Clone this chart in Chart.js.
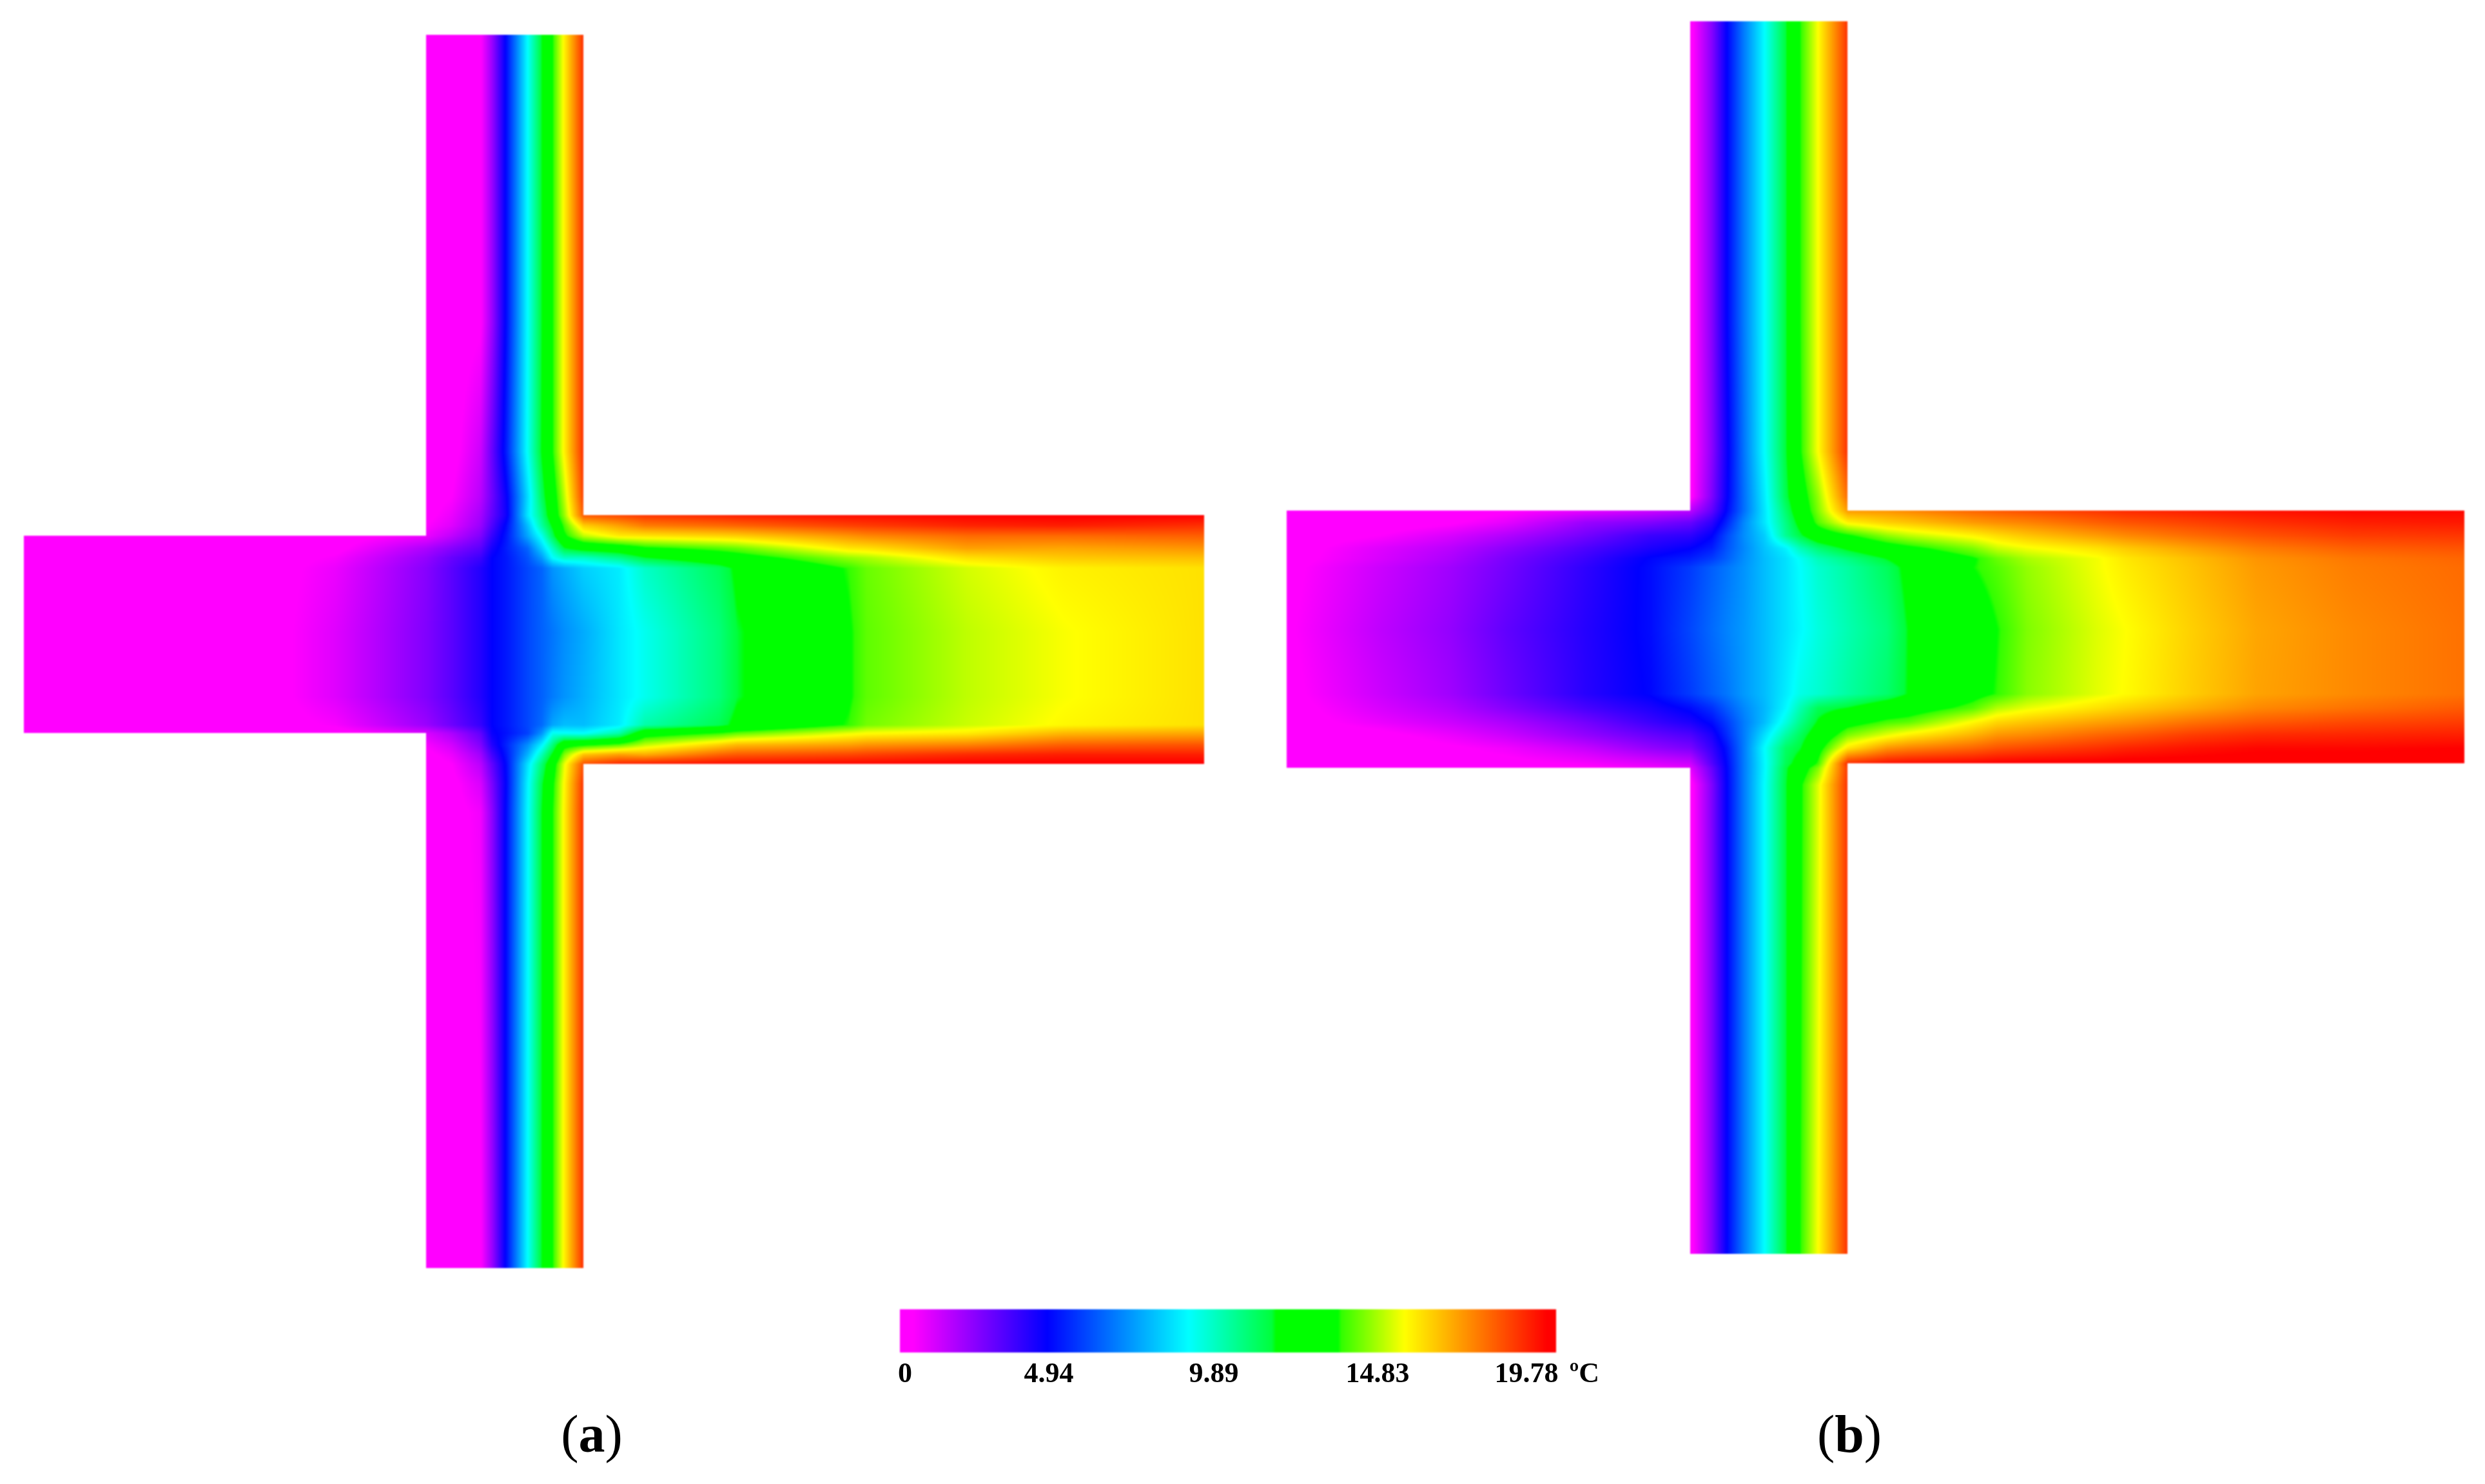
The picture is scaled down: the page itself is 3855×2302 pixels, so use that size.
<!DOCTYPE html>
<html>
<head>
<meta charset="utf-8">
<title>Temperature field</title>
<script src="https://cdn.jsdelivr.net/npm/chart.js@4"></script>
<style>
  html, body { margin: 0; padding: 0; background: #fff; }
  canvas { display: block; }
</style>
</head>
<body>
<canvas id="chart" width="3855" height="2302"></canvas>
<script>
const N = null;

// colour bar: temperature at each colour stop
const stopTemps = [0, 0.4, 4.43, 8.7, 11.2, 11.33, 13.2, 13.3, 15.2, 19.5, 19.78];
const stopColors = [[255,0,255],[255,0,255],[0,0,255],[0,255,255],[0,255,60],[0,255,0],[0,255,0],[50,255,0],[255,255,0],[255,0,0],[255,0,0]];
const tickLabels = ['0', '4.94', '9.89', '14.83', '19.78', 'ºC'];
const tickXs = [1404, 1627, 1883, 2137, 2368, 2458];
const barXs = [1396, 2414];
const barYs = [2031, 2098];
const barTemps = [[0, 19.78], [0, 19.78]];

// panel (a) nodes
const xsA = [37,250,400,520,661,700,745,763,785,818,840,857,875,905,960,1000,1115,1143,1316,1344,1500,1650,1868];
const ysA = [54,500,700,770,799,815,831,850,865,881,980,1080,1124,1137,1155,1170,1185,1215,1260,1967];
const tempsA = [
  [N,N,N,N,0,0,.3,2,4.6,8.7,11.3,13.2,15.4,18.8,N,N,N,N,N,N,N,N,N],
  [N,N,N,N,0,0,.3,2,4.6,8.7,11.3,13.2,15.4,18.8,N,N,N,N,N,N,N,N,N],
  [N,N,N,N,0,.1,1.2,2.8,4.9,8.8,11.4,13.2,15.4,18.8,N,N,N,N,N,N,N,N,N],
  [N,N,N,N,.1,.4,1.5,2.7,4.3,8.1,10.8,12.5,14.6,18.5,N,N,N,N,N,N,N,N,N],
  [N,N,N,N,.2,.7,1.8,2.9,4.2,8.3,10.3,12.3,14.2,18,18.3,18.6,18.9,19,19.3,19.3,19.5,19.6,19.5],
  [N,N,N,N,.4,.9,2,3.2,4.6,7.6,9.9,11.5,13.5,16,16.8,17.4,17.7,17.8,18.4,18.5,18.9,19,18.7],
  [0,0,0,.05,.7,1.4,2.4,3.6,4.8,7.2,8.9,10.9,13,14.6,15.5,15.6,15.9,16,17,17.2,17.7,17.7,17.9],
  [0,0,0,.2,1.7,2.3,3,4.1,4.9,6.1,7.9,9.5,11.2,11.9,12.3,13,13.6,13.8,15.6,15.7,16.8,16.7,17],
  [0,0,0,.5,2.1,2.8,3.5,4.43,4.8,5.8,7,8.7,9.4,9.4,10.2,11.2,12.3,12.6,14.2,14.4,15.7,16.1,16.3],
  [0,0,0,.7,2.3,3,3.9,4.43,4.8,5.6,6.1,6.9,7.3,7.9,8.4,9.4,10.8,11.5,13.3,13.8,14.8,15.4,15.7],
  [0,0,0,.9,2.4,3,3.9,4.43,4.8,5.6,6.05,6.4,6.8,7.3,8.3,8.9,10.4,11.2,13.1,13.7,14.6,15.15,15.7],
  [0,0,0,.9,2.4,3,3.9,4.43,4.8,5.6,6.05,6.5,6.9,7.4,8.3,8.9,10.4,11.2,13.1,13.7,14.6,15.15,15.7],
  [0,0,0,.5,2,2.7,3.6,4.43,4.8,5.6,6.2,7.2,7.6,7.6,8.4,9.8,10.9,11.6,13.3,13.9,14.7,15.3,15.7],
  [0,0,0,.1,1,1.7,2.9,4.3,4.7,5.5,6.9,8.9,8.8,8.7,9.8,12.5,13.3,13.7,15,15.2,15.5,16.4,16.7],
  [N,N,N,N,.5,1.1,2.4,3.9,5,6.8,8.5,10.4,12.7,13,13.6,14.6,16,16.4,16.8,17,17.3,17.9,18.1],
  [N,N,N,N,.2,.7,1.9,3.4,4.8,7.4,9.6,11.5,14,16.2,16.8,16.6,17.8,18,18.3,18.4,18.8,19,19],
  [N,N,N,N,.1,.4,1.5,2.9,4.6,8.2,10.5,12.5,15,18.2,19,19.2,19.4,19.4,19.5,19.5,19.6,19.6,19.6],
  [N,N,N,N,0,.2,1,2.5,4.5,8.5,11.1,13,15.3,18.7,N,N,N,N,N,N,N,N,N],
  [N,N,N,N,0,.1,.6,2.2,4.6,8.6,11.3,13.2,15.4,18.8,N,N,N,N,N,N,N,N,N],
  [N,N,N,N,0,0,.3,2,4.6,8.7,11.3,13.2,15.4,18.8,N,N,N,N,N,N,N,N,N]
];

// panel (b) nodes
const xsB = [1996,2139,2250,2336,2459,2560,2622,2655,2678,2705,2737,2770,2792,2820,2866,2927,2960,3060,3098,3144,3254,3298,3400,3500,3650,3823];
const ysB = [33,500,700,770,792,810,830,850,866,880,976,1076,1098,1120,1140,1160,1184,1191,1217,1945];
const tempsB = [
  [N,N,N,N,N,N,.1,2.3,4.4,6.5,8.7,11.2,13.2,15.2,18.7,N,N,N,N,N,N,N,N,N,N,N],
  [N,N,N,N,N,N,.1,2.3,4.4,6.5,8.7,11.2,13.2,15.2,18.7,N,N,N,N,N,N,N,N,N,N,N],
  [N,N,N,N,N,N,.1,2.2,4.2,6.4,8.7,11.2,13.1,15.2,18.7,N,N,N,N,N,N,N,N,N,N,N],
  [N,N,N,N,N,N,.2,2.4,4.3,6.3,8.4,11,12.5,14.2,17.7,N,N,N,N,N,N,N,N,N,N,N],
  [0,0,0,.3,.8,1.2,1.5,2.9,4.5,6.3,8.3,10.6,12.2,14,16.9,17,17.2,17.8,18,18.2,18.6,18.8,19,19.2,19.4,19.4],
  [0,0,.3,.8,2,2.4,2.8,3.7,5,6.7,8.3,10.3,11.7,13.6,15.4,16,16.2,16.9,17.1,17.3,17.9,18.1,18.4,18.7,19,19.1],
  [0,.4,1,1.6,2.6,3.5,3.7,4.4,5.6,6.8,7.9,10.1,11.1,12.3,13.1,14.2,14.6,15.4,15.8,16.2,16.9,17.2,17.7,18.1,18.5,18.6],
  [.05,.9,1.5,2.2,3.2,4,4.4,4.9,5.8,6.7,7.7,8.5,9.6,10.5,11.5,12.5,12.9,14,14.7,15.1,15.7,16.1,16.8,17.4,17.9,18.1],
  [.1,1,1.7,2.5,3.5,4.5,4.9,5.4,6,6.8,7.6,8.2,8.8,9.6,10.3,11.33,11.9,13.1,13.8,14.4,15.1,15.6,16.3,17,17.5,17.8],
  [.2,1.2,1.9,2.6,3.7,4.6,5.4,6,6.4,6.9,7.6,8.2,8.7,9.3,9.9,10.8,11.6,13.2,13.6,14.2,15.1,15.5,16.2,16.9,17.4,17.7],
  [.3,1.4,2.1,2.9,3.85,4.6,5.6,6.2,6.6,7,7.6,8.2,8.6,9.1,9.7,10.4,11.33,12.5,13.2,14,14.9,15.2,16,16.7,17.2,17.6],
  [.2,1.2,1.9,2.7,3.8,4.5,5.4,6,6.4,7,7.6,8.4,9,9.3,9.9,10.6,11.35,12.8,13.3,14.1,14.95,15.25,16.05,16.75,17.2,17.6],
  [.1,1,1.6,2.3,3.3,4,4.6,5.2,5.9,6.7,7.5,8.6,9.7,10.9,11.33,12.2,12.5,13.6,14.5,15,15.7,16,16.6,17.2,17.6,18],
  [.05,.7,1.2,1.7,2.6,3.5,4,4.6,5.4,6.5,7.6,9.1,10.2,11.4,12.7,13.5,13.7,15.3,15.9,16.2,16.8,17,17.6,18,18.3,18.5],
  [0,.2,.7,1.2,2.1,2.8,3.2,4,5.1,6.5,8.2,9.9,10.8,12,14,15,15.5,16.5,17,17.2,17.8,18,18.5,18.8,18.9,19],
  [0,0,.3,.6,1.3,2.1,2.5,3.6,4.7,6.5,8.7,10.7,11.2,12.7,15.6,17,17.3,17.8,18.1,18.3,18.7,18.9,19.2,19.4,19.4,19.5],
  [0,0,.05,.2,.5,.9,1.2,3.1,4.5,6.5,8.6,10.9,11.8,13.4,18.8,19.3,19.4,19.5,19.6,19.65,19.7,19.75,19.75,19.78,19.78,19.78],
  [0,0,0,.1,.3,.6,.8,2.8,4.45,6.5,8.6,11.1,12.4,14,18.6,N,N,N,N,N,N,N,N,N,N,N],
  [N,N,N,N,N,N,.1,2.4,4.4,6.5,8.7,11.2,13,14.9,18.7,N,N,N,N,N,N,N,N,N,N,N],
  [N,N,N,N,N,N,.1,2.3,4.4,6.5,8.7,11.2,13.2,15.2,18.7,N,N,N,N,N,N,N,N,N,N,N]
];

function tempToColor(t){
  var i = 0;
  while(i < stopTemps.length-2 && t > stopTemps[i+1]) i++;
  var f = (t-stopTemps[i])/(stopTemps[i+1]-stopTemps[i]);
  f = Math.max(0, Math.min(1, f));
  var a = stopColors[i], b = stopColors[i+1];
  return [a[0]+(b[0]-a[0])*f, a[1]+(b[1]-a[1])*f, a[2]+(b[2]-a[2])*f];
}

// nodes as scatter data, one dataset per field, the plugin shades between them
function toNodes(xs, ys, temps){
  var nodes = [];
  ys.forEach((y,r) => xs.forEach((x,c) => {
    nodes.push({x: x, y: y, t: temps[r][c]});
  }));
  return {xs: xs, ys: ys, data: nodes, pointRadius: 0, showLine: false};
}

const fieldPlugin = {
  id: 'field',
  beforeDatasetsDraw(chart){
    const sx = chart.scales.x, sy = chart.scales.y;
    const w = chart.width, h = chart.height;
    const img = new ImageData(w, h);
    chart.data.datasets.forEach(ds => {
      const cols = ds.xs.length;
      for(let r = 0; r < ds.ys.length-1; r++){
        for(let c = 0; c < cols-1; c++){
          const t00 = ds.data[r*cols+c].t, t01 = ds.data[r*cols+c+1].t;
          const t10 = ds.data[(r+1)*cols+c].t, t11 = ds.data[(r+1)*cols+c+1].t;
          if(t00===null || t01===null || t10===null || t11===null) continue;
          const x0 = Math.round(sx.getPixelForValue(ds.xs[c])), x1 = Math.round(sx.getPixelForValue(ds.xs[c+1]));
          const y0 = Math.round(sy.getPixelForValue(ds.ys[r])), y1 = Math.round(sy.getPixelForValue(ds.ys[r+1]));
          for(let py = y0; py < y1; py++){
            const v = (py-y0)/(y1-y0);
            for(let px = x0; px < x1; px++){
              const u = (px-x0)/(x1-x0);
              const t = (t00*(1-u)+t01*u)*(1-v)+(t10*(1-u)+t11*u)*v;
              const col = tempToColor(t);
              const k = (py*w+px)*4;
              img.data[k] = col[0]; img.data[k+1] = col[1]; img.data[k+2] = col[2]; img.data[k+3] = 255;
            }
          }
        }
      }
    });
    const off = document.createElement('canvas');
    off.width = w; off.height = h;
    off.getContext('2d').putImageData(img, 0, 0);
    chart.ctx.save();
    chart.ctx.filter = 'blur(1px)';
    chart.ctx.drawImage(off, 0, 0);
    chart.ctx.restore();
  },
  afterDraw(chart){
    const ctx = chart.ctx, sx = chart.scales.x, sy = chart.scales.y;
    [['(', 'a', ')', 918], ['(', 'b', ')', 2869]].forEach(cap => {
      ctx.save();
      ctx.fillStyle = '#000';
      ctx.textBaseline = 'alphabetic';
      const reg = '82px "Liberation Serif"', bold = 'bold 82px "Liberation Serif"';
      ctx.font = reg;
      const pw = ctx.measureText('(').width;
      ctx.font = bold;
      const lw = ctx.measureText(cap[1]).width;
      let x = sx.getPixelForValue(cap[3]) - (pw*2+lw)/2;
      const y = sy.getPixelForValue(2252);
      ctx.font = reg; ctx.fillText(cap[0], x, y); x += pw;
      ctx.font = bold; ctx.fillText(cap[1], x, y); x += lw;
      ctx.font = reg; ctx.fillText(cap[2], x, y);
      ctx.restore();
    });
  }
};

new Chart(document.getElementById('chart'), {
  type: 'scatter',
  plugins: [fieldPlugin],
  data: {
    datasets: [
      toNodes(xsA, ysA, tempsA),
      toNodes(xsB, ysB, tempsB),
      toNodes(barXs, barYs, barTemps)
    ]
  },
  options: {
    responsive: false,
    animation: false,
    layout: { padding: 0 },
    plugins: { legend: { display: false }, tooltip: { enabled: false } },
    scales: {
      x: {
        type: 'linear', min: 0, max: 3855,
        position: { y: 2098 },
        grid: { display: false },
        border: { display: false },
        afterBuildTicks: scale => { scale.ticks = tickXs.map(v => ({value: v})); },
        ticks: {
          autoSkip: false, maxRotation: 0, padding: 0,
          color: '#000',
          font: { family: '"Liberation Serif"', size: 44, weight: 'bold' },
          callback: (v, i) => tickLabels[i]
        }
      },
      y: { type: 'linear', min: 0, max: 2302, reverse: true, display: false }
    }
  }
});
</script>
</body>
</html>
